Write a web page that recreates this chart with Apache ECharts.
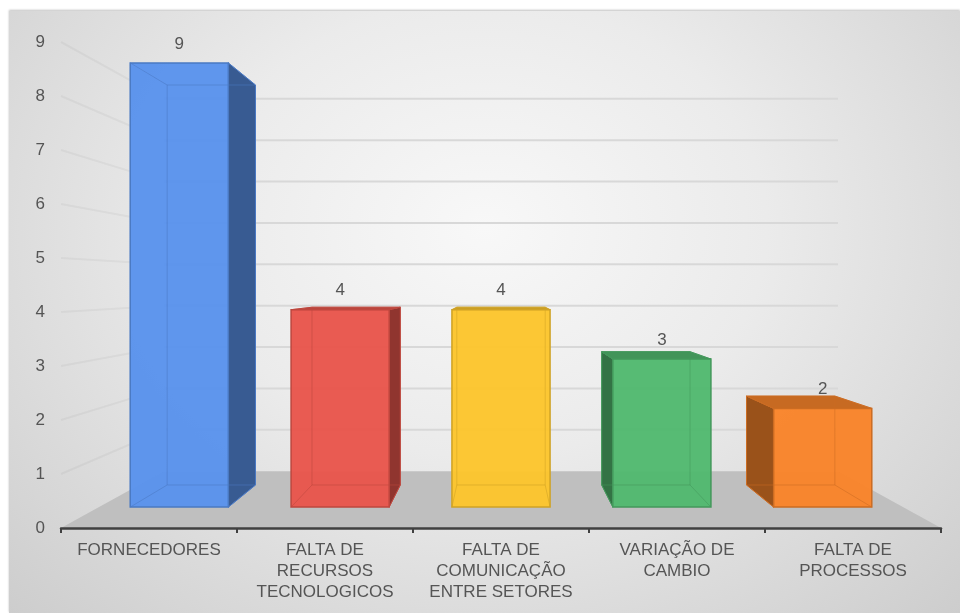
<!DOCTYPE html>
<html>
<head>
<meta charset="utf-8">
<script src="https://cdn.jsdelivr.net/npm/echarts@6/dist/echarts.min.js"></script>
<style>
  html, body { margin: 0; padding: 0; background: #ffffff; }
  #wrap { position: relative; width: 960px; height: 613px; overflow: hidden; }
  #panel {
    position: absolute; left: 9px; top: 11px; width: 951px; height: 602px;
    background: radial-gradient(ellipse at 50% 36%, #f8f8f8 0%, #ebebeb 42%, #cdcdcd 100%);
    box-shadow: 0 -1px 2px rgba(0,0,0,0.25);
  }
  #chart { position: absolute; left: 0; top: 0; width: 960px; height: 613px; }
</style>
</head>
<body>
<div id="wrap"><div id="panel"></div><div id="chart"></div></div>
<script>
// Categories (tick labels, wrapped as shown under the axis)
const categories = [
  'FORNECEDORES',
  'FALTA DE\nRECURSOS\nTECNOLOGICOS',
  'FALTA DE\nCOMUNICAÇÃO\nENTRE SETORES',
  'VARIAÇÃO DE\nCAMBIO',
  'FALTA DE\nPROCESSOS'
];
// Number of occurrences per category
const values = [9, 4, 4, 3, 2];
// Face colour of each column
const barColors = ['#5a93ec', '#e8564c', '#fcc52d', '#52b96f', '#f9842a'];
// Value axis range
const yMin = 0;
const yMax = 9;
const yStep = 1;

// One-point perspective: every point is pulled toward the centre of the plot
// by a depth factor (1 = front plane where the axes live).
const DEPTH_BAR_FRONT = 0.914;
const DEPTH_BAR_BACK = 0.823;
const DEPTH_WALL = 0.766;
const BAR_FRACTION = 0.61;

const FONT = '"Liberation Sans", Arial, Helvetica, sans-serif';
const TEXT_COLOR = '#555555';
const FONT_SIZE = 17;

function shade(hex, k) {
  const n = parseInt(hex.slice(1), 16);
  const r = Math.round(((n >> 16) & 255) * k);
  const g = Math.round(((n >> 8) & 255) * k);
  const b = Math.round((n & 255) * k);
  return 'rgb(' + r + ',' + g + ',' + b + ')';
}

function projector(cs) {
  const vx = cs.x + cs.width / 2;
  const vy = cs.y + cs.height / 2;
  return function (p, s) {
    return [vx + s * (p[0] - vx), vy + s * (p[1] - vy)];
  };
}

// Floor, back wall and side wall with their gridlines
function renderScene(params, api) {
  const cs = params.coordSys;
  const P = projector(cs);
  const left = cs.x;
  const right = cs.x + cs.width;
  const y0 = api.coord([0, yMin])[1];
  const children = [];
  children.push({
    type: 'polygon',
    shape: { points: [[left, y0], [right, y0], P([right, y0], DEPTH_WALL), P([left, y0], DEPTH_WALL)] },
    style: { fill: '#bfbfbf' }
  });
  for (let v = yMin + yStep; v <= yMax; v += yStep) {
    const y = api.coord([0, v])[1];
    const a = P([left, y], DEPTH_WALL);
    const b = P([right, y], DEPTH_WALL);
    children.push({
      type: 'line',
      shape: { x1: a[0], y1: a[1], x2: b[0], y2: b[1] },
      style: { stroke: '#d8d8d8', lineWidth: 2 }
    });
    children.push({
      type: 'line',
      shape: { x1: left, y1: y, x2: a[0], y2: a[1] },
      style: { stroke: 'rgba(0,0,0,0.04)', lineWidth: 2 }
    });
  }
  return { type: 'group', children: children };
}

// A translucent 3D column with its value above it
function renderBar(params, api) {
  const i = api.value(0);
  const v = api.value(1);
  const P = projector(params.coordSys);
  const base = api.coord([i, yMin]);
  const top = api.coord([i, v]);
  const hw = api.size([1, 0])[0] * BAR_FRACTION / 2;
  const front = [
    [base[0] - hw, top[1]], [base[0] + hw, top[1]],
    [base[0] + hw, base[1]], [base[0] - hw, base[1]]
  ];
  const F = front.map(p => P(p, DEPTH_BAR_FRONT));
  const B = front.map(p => P(p, DEPTH_BAR_BACK));
  const color = barColors[i];
  const sideColor = shade(color, 0.62);
  const topColor = shade(color, 0.8);
  const edgeColor = shade(color, 0.82);
  const children = [];
  if (B[1][0] > F[1][0] + 0.5) {
    children.push({ type: 'polygon', shape: { points: [F[1], B[1], B[2], F[2]] },
      style: { fill: sideColor, stroke: edgeColor, lineWidth: 1 } });
  }
  if (B[0][0] < F[0][0] - 0.5) {
    children.push({ type: 'polygon', shape: { points: [F[0], B[0], B[3], F[3]] },
      style: { fill: sideColor, stroke: edgeColor, lineWidth: 1 } });
  }
  if (B[0][1] < F[0][1]) {
    children.push({ type: 'polygon', shape: { points: [F[0], F[1], B[1], B[0]] },
      style: { fill: topColor, stroke: edgeColor, lineWidth: 1 } });
  }
  children.push({ type: 'polygon', shape: { points: F },
    style: { fill: color, opacity: 0.97 } });
  // edges seen through the translucent front face
  children.push({ type: 'polygon', shape: { points: B },
    style: { fill: 'none', stroke: edgeColor, lineWidth: 1, opacity: 0.55 } });
  for (let k = 0; k < 4; k++) {
    children.push({ type: 'line',
      shape: { x1: F[k][0], y1: F[k][1], x2: B[k][0], y2: B[k][1] },
      style: { stroke: edgeColor, lineWidth: 1, opacity: 0.55 } });
  }
  children.push({ type: 'polygon', shape: { points: F },
    style: { fill: 'none', stroke: edgeColor, lineWidth: 1.5 } });
  children.push({ type: 'text',
    style: {
      x: (F[0][0] + F[1][0]) / 2, y: F[0][1] - 19,
      text: String(v), fill: TEXT_COLOR, font: FONT_SIZE + 'px ' + FONT,
      align: 'center', verticalAlign: 'middle'
    } });
  return { type: 'group', children: children };
}

const chart = echarts.init(document.getElementById('chart'), null, { renderer: 'canvas' });
chart.setOption({
  backgroundColor: 'transparent',
  animation: false,
  textStyle: { fontFamily: FONT },
  grid: { left: 61, right: 19, top: 42, bottom: 85, containLabel: false },
  xAxis: {
    type: 'category',
    data: categories,
    axisLine: { show: true, lineStyle: { color: '#404040', width: 2.5 } },
    axisTick: { show: true, length: 5, lineStyle: { color: '#404040', width: 2 } },
    axisLabel: { interval: 0, color: TEXT_COLOR, fontSize: FONT_SIZE, lineHeight: 21, margin: 12, fontFamily: FONT },
    splitLine: { show: false },
    z: 10
  },
  yAxis: {
    type: 'value',
    min: yMin, max: yMax, interval: yStep,
    axisLine: { show: false },
    axisTick: { show: false },
    splitLine: { show: false },
    axisLabel: { color: TEXT_COLOR, fontSize: FONT_SIZE, margin: 16, fontFamily: FONT }
  },
  series: [
    { type: 'custom', name: 'scene', renderItem: renderScene, data: [[0, 0]], z: 1, silent: true },
    { type: 'custom', name: 'valores', renderItem: renderBar,
      data: values.map((v, i) => [i, v]), encode: { x: 0, y: 1 }, z: 5 }
  ]
});
</script>
</body>
</html>
